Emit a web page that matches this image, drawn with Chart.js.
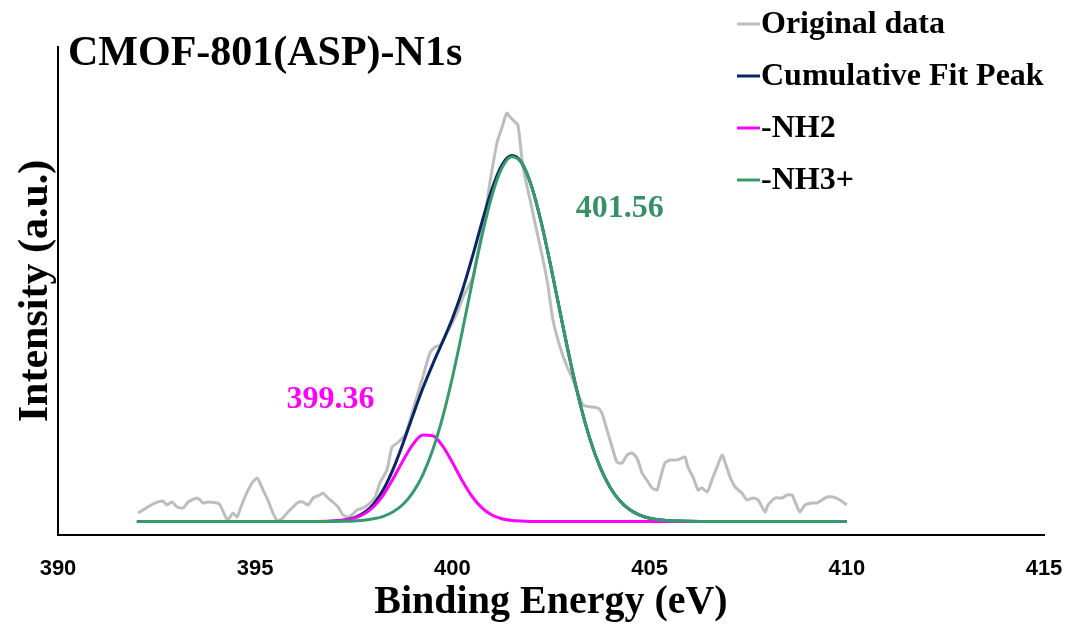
<!DOCTYPE html>
<html>
<head>
<meta charset="utf-8">
<script src="https://cdn.jsdelivr.net/npm/chart.js"></script>
<style>
  html, body { margin: 0; padding: 0; background: #fff; }
  #wrap { width: 1066px; height: 629px; position: relative; }
</style>
</head>
<body>
<div id="wrap"><canvas id="xpsChart"></canvas></div>
<script>
// measured spectrum (binding energy, eV / intensity, a.u.)
var energy = [
  392.03, 392.41, 392.66, 392.76, 392.89, 393.02, 393.17, 393.30, 393.52, 393.60,
  393.68, 393.80, 394.03, 394.11, 394.29, 394.36, 394.44, 394.54, 394.61, 394.74,
  394.92, 395.05, 395.12, 395.20, 395.32, 395.45, 395.55, 395.63, 395.70, 395.83,
  395.96, 396.06, 396.21, 396.34, 396.47, 396.64, 396.72, 396.82, 396.97, 397.10,
  397.23, 397.35, 397.45, 397.58, 397.73, 397.91, 398.04, 398.16, 398.34, 398.47,
  398.60, 398.80, 399.00, 399.25, 399.43, 399.56, 399.69, 399.86, 400.12, 400.27,
  400.52, 400.62, 400.78, 400.95, 401.13, 401.26, 401.38, 401.46, 401.59, 401.66,
  401.71, 401.79, 401.97, 402.15, 402.30, 402.42, 402.55, 402.73, 402.91, 403.03,
  403.18, 403.31, 403.54, 403.69, 403.79, 403.92, 404.05, 404.17, 404.30, 404.43,
  404.55, 404.68, 404.81, 404.93, 405.06, 405.19, 405.26, 405.39, 405.52, 405.69,
  405.82, 405.90, 405.97, 406.10, 406.23, 406.33, 406.46, 406.58, 406.71, 406.84,
  406.91, 407.04, 407.17, 407.34, 407.47, 407.62, 407.75, 407.93, 408.00, 408.18,
  408.36, 408.48, 408.61, 408.69, 408.81, 408.94, 409.12, 409.24, 409.37, 409.50,
  409.65, 409.83, 410.00
];
var originalData = [
  22, 31, 34, 30, 33, 28, 27, 33, 37, 35,
  32, 33, 32, 30, 15, 18, 22, 18, 25, 38,
  52, 57, 52, 45, 35, 22, 15, 15, 17, 23,
  28, 32, 33, 30, 37, 40, 42, 38, 33, 28,
  20, 18, 20, 25, 27, 32, 38, 52, 65, 88,
  92, 100, 125, 158, 182, 188, 190, 202, 222, 238,
  258, 278, 308, 352, 392, 408, 422, 418, 413, 410,
  395, 368, 335, 302, 275, 250, 215, 188, 168, 158,
  142, 130, 128, 127, 122, 105, 88, 73, 72, 80,
  82, 77, 62, 55, 47, 45, 55, 72, 75, 75,
  77, 78, 68, 58, 45, 47, 43, 55, 68, 80,
  73, 58, 48, 42, 35, 37, 35, 23, 30, 37,
  37, 40, 40, 33, 23, 30, 32, 32, 35, 38,
  38, 35, 30
];

// fitted curves
var fitEnergy = [
  392, 393, 394, 395, 396, 396.5,
  397, 397.25, 397.5, 397.75, 398, 398.25, 398.5, 398.75, 399, 399.25,
  399.5, 399.75, 400, 400.25, 400.5, 400.75, 401, 401.25, 401.5, 401.75,
  402, 402.25, 402.5, 402.75, 403, 403.25, 403.5, 403.75, 404, 404.25,
  404.5, 404.75, 405, 405.25, 405.5, 405.75, 406,
  406.5, 407, 408, 409, 410
];
var cumulativeFit = [
  13.5, 13.5, 13.5, 13.5, 13.5, 13.5,
  14.0, 15.0, 17.2, 22.0, 30.9, 45.4, 66.1, 91.8, 119.8, 146.7,
  170.7, 193.0, 216.5, 244.3, 277.3, 312.9, 345.5, 369.4, 379.4, 372.7,
  349.6, 313.0, 267.8, 219.1, 171.7, 129.5, 94.4, 67.3, 47.5, 34.0,
  25.3, 19.9, 16.8, 15.2, 14.3, 13.9, 13.7,
  13.5, 13.5, 13.5, 13.5, 13.5
];
var nh2Fit = [
  13.5, 13.5, 13.5, 13.5, 13.5, 13.5,
  13.9, 14.7, 16.6, 20.7, 28.2, 40.2, 56.4, 74.6, 90.7, 100.0,
  99.3, 89.1, 72.5, 54.3, 38.5, 27.1, 20.0, 16.3, 14.6, 13.9,
  13.6, 13.5, 13.5, 13.5, 13.5, 13.5, 13.5, 13.5, 13.5, 13.5,
  13.5, 13.5, 13.5, 13.5, 13.5, 13.5, 13.5,
  13.5, 13.5, 13.5, 13.5, 13.5
];
var nh3Fit = [
  13.5, 13.5, 13.5, 13.5, 13.5, 13.5,
  13.6, 13.8, 14.1, 14.8, 16.2, 18.7, 23.2, 30.7, 42.6, 60.2,
  84.9, 117.4, 157.5, 203.5, 252.3, 299.3, 339.0, 366.6, 378.3, 372.3,
  349.5, 313.0, 267.8, 219.1, 171.7, 129.5, 94.4, 67.3, 47.5, 34.0,
  25.3, 19.9, 16.8, 15.2, 14.3, 13.9, 13.7,
  13.5, 13.5, 13.5, 13.5, 13.5
];

var seriesNames = ["Original data", "Cumulative Fit Peak", "-NH2", "-NH3+"];
var xTicks = [390, 395, 400, 405, 410, 415];
var chartTitle = "CMOF-801(ASP)-N1s";
var peakLabels = [
  { text: "399.36", x: 396.91, y: 127, color: "#ff00ff" },
  { text: "401.56", x: 404.24, y: 318, color: "#3a8f69" }
];

var colors = ["#bdbdbd", "#0b2462", "#ff00ff", "#379a6c"];

function toPoints(xs, ys) {
  return xs.map(function (x, i) { return { x: x, y: ys[i] }; });
}

var serif = "'Liberation Serif', 'Times New Roman', serif";

var overlay = {
  id: "overlay",
  afterDraw: function (chart) {
    var ctx = chart.ctx;
    var xs = chart.scales.x, ys = chart.scales.y;
    ctx.save();
    // title
    ctx.fillStyle = "#000";
    ctx.font = "bold 42px " + serif;
    ctx.textAlign = "left";
    ctx.textBaseline = "alphabetic";
    ctx.fillText(chartTitle, 68, 65);
    // legend
    ctx.font = "bold 32px " + serif;
    ctx.textBaseline = "middle";
    seriesNames.forEach(function (name, i) {
      var y = 24 + i * 52;
      ctx.strokeStyle = colors[i];
      ctx.lineWidth = 3;
      ctx.beginPath();
      ctx.moveTo(737, y);
      ctx.lineTo(760, y);
      ctx.stroke();
      ctx.fillStyle = "#000";
      ctx.fillText(name, 761, y + 1);
    });
    // peak positions
    ctx.textAlign = "center";
    ctx.textBaseline = "alphabetic";
    peakLabels.forEach(function (p) {
      ctx.fillStyle = p.color;
      ctx.fillText(p.text, xs.getPixelForValue(p.x), ys.getPixelForValue(p.y));
    });
    ctx.restore();
  }
};

var ctx = document.getElementById("xpsChart").getContext("2d");
var myChart = new Chart(ctx, {
  type: "line",
  data: {
    datasets: [
      {
        label: seriesNames[0],
        data: toPoints(energy, originalData),
        borderColor: colors[0],
        borderWidth: 3,
        tension: 0.2,
        order: 4
      },
      {
        label: seriesNames[1],
        data: toPoints(fitEnergy, cumulativeFit),
        borderColor: colors[1],
        borderWidth: 3,
        cubicInterpolationMode: "monotone",
        order: 3
      },
      {
        label: seriesNames[2],
        data: toPoints(fitEnergy, nh2Fit),
        borderColor: colors[2],
        borderWidth: 3,
        cubicInterpolationMode: "monotone",
        order: 2
      },
      {
        label: seriesNames[3],
        data: toPoints(fitEnergy, nh3Fit),
        borderColor: colors[3],
        borderWidth: 3,
        cubicInterpolationMode: "monotone",
        order: 1
      }
    ]
  },
  options: {
    responsive: true,
    maintainAspectRatio: false,
    animation: false,
    elements: { point: { radius: 0 } },
    layout: { padding: { left: 0, right: 22, top: 47, bottom: 6.6 } },
    plugins: {
      legend: { display: false },
      tooltip: { enabled: false }
    },
    scales: {
      x: {
        type: "linear",
        min: 390,
        max: 415,
        afterBuildTicks: function (s) {
          s.ticks = xTicks.map(function (v) { return { value: v }; });
        },
        afterFit: function (s) {
          s.paddingLeft = 0;
          s.paddingRight = 0;
          s.height = 87.4;
        },
        grid: { display: false, drawTicks: false },
        border: { display: true, color: "#000", width: 2 },
        ticks: {
          padding: 21,
          color: "#000",
          font: { family: "'Liberation Sans', Arial, sans-serif", size: 22, weight: "bold" }
        },
        title: {
          display: true,
          text: "Binding Energy (eV)",
          color: "#000",
          padding: { top: 0, bottom: 0 },
          font: { family: serif, size: 40, weight: "bold", lineHeight: 1 }
        }
      },
      y: {
        min: 0,
        max: 488,
        grid: { display: false, drawTicks: false },
        border: { display: true, color: "#000", width: 2 },
        ticks: { display: false },
        title: {
          display: true,
          text: "Intensity (a.u.)",
          color: "#000",
          padding: { top: 15, bottom: 1 },
          font: { family: serif, size: 42, weight: "bold", lineHeight: 1 }
        }
      }
    }
  },
  plugins: [overlay]
});
</script>
</body>
</html>
